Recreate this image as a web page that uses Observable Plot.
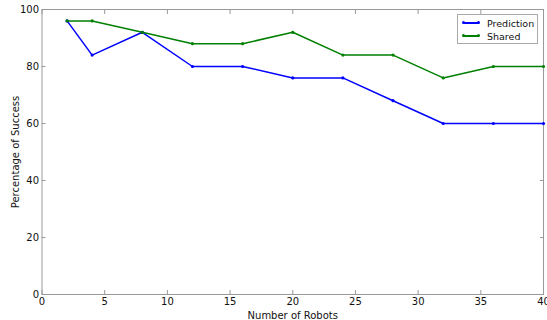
<!DOCTYPE html>
<html>
<head>
<meta charset="utf-8">
<script src="https://cdn.jsdelivr.net/npm/d3@7"></script>
<script src="https://cdn.jsdelivr.net/npm/@observablehq/plot@0.6"></script>
<style>
  body { margin: 0; background: #fff; font-family: "DejaVu Sans", sans-serif; }
  #wrap { position: relative; width: 547px; height: 320px; }
  #legend { position: absolute; left: 457px; top: 14px; width: 81px; height: 30px; border: 1px solid #aaa; background: #fff; box-sizing: border-box; font-size: 9.5px; color: #111; }
  .row { position: absolute; left: 0; height: 12px; display: flex; align-items: center; }
  .sw { position: relative; margin-left: 5px; width: 16px; height: 1.5px; }
  .sw::before, .sw::after { content: ""; position: absolute; top: -1px; width: 3px; height: 3px; border-radius: 50%; background: inherit; }
  .sw::before { left: -1px; } .sw::after { right: -1px; }
  .lab { margin-left: 8px; }
</style>
</head>
<body>
<div id="wrap"></div>
<script>
const robots = [2, 4, 8, 12, 16, 20, 24, 28, 32, 36, 40];
const prediction = [96, 84, 92, 80, 80, 76, 76, 68, 60, 60, 60];
const shared = [96, 96, 92, 88, 88, 92, 84, 84, 76, 80, 80];
const seriesNames = ["Prediction", "Shared"];
const seriesColors = ["#0000ff", "#008000"];
const xTicks = [0, 5, 10, 15, 20, 25, 30, 35, 40];
const yTicks = [0, 20, 40, 60, 80, 100];

const data = [];
robots.forEach((r, i) => {
  data.push({robots: r, value: prediction[i], series: seriesNames[0]});
  data.push({robots: r, value: shared[i], series: seriesNames[1]});
});

const frameColor = "#999";
const chart = Plot.plot({
  width: 547,
  height: 320,
  marginLeft: 41.5,
  marginRight: 4,
  marginTop: 9,
  marginBottom: 26,
  style: {fontFamily: "DejaVu Sans, sans-serif", fontSize: "10px", color: "#111", background: "#fff"},
  x: {domain: [0, 40]},
  y: {domain: [0, 100]},
  color: {domain: seriesNames, range: seriesColors},
  marks: [
    Plot.frame({stroke: frameColor, strokeWidth: 1}),
    Plot.axisX({ticks: xTicks, anchor: "bottom", tickSize: 0, tickPadding: 3, label: "Number of Robots", labelAnchor: "center", labelArrow: "none", labelOffset: 24, fill: "#111"}),
    Plot.axisX({ticks: xTicks, anchor: "bottom", tickSize: 4, text: null, label: null, dy: -4, stroke: frameColor}),
    Plot.axisX({ticks: xTicks, anchor: "top", tickSize: 4, text: null, label: null, dy: 4, stroke: frameColor}),
    Plot.axisY({ticks: yTicks, anchor: "left", tickSize: 0, tickPadding: 3, label: "Percentage of Success", labelAnchor: "center", labelArrow: "none", labelOffset: 30, fill: "#111"}),
    Plot.axisY({ticks: yTicks, anchor: "left", tickSize: 4, text: null, label: null, dx: 4, stroke: frameColor}),
    Plot.axisY({ticks: yTicks, anchor: "right", tickSize: 4, text: null, label: null, dx: -4, stroke: frameColor}),
    Plot.line(data, {x: "robots", y: "value", z: "series", stroke: "series", strokeWidth: 1.5}),
    Plot.dot(data, {x: "robots", y: "value", fill: "series", r: 1.6})
  ]
});
document.getElementById("wrap").appendChild(chart);

const legend = document.createElement("div");
legend.id = "legend";
seriesNames.forEach((name, i) => {
  const row = document.createElement("div");
  row.className = "row";
  row.style.top = (2 + i * 13) + "px";
  const sw = document.createElement("div");
  sw.className = "sw";
  sw.style.background = seriesColors[i];
  const lab = document.createElement("span");
  lab.className = "lab";
  lab.textContent = name;
  row.appendChild(sw);
  row.appendChild(lab);
  legend.appendChild(row);
});
document.getElementById("wrap").appendChild(legend);
</script>
</body>
</html>
